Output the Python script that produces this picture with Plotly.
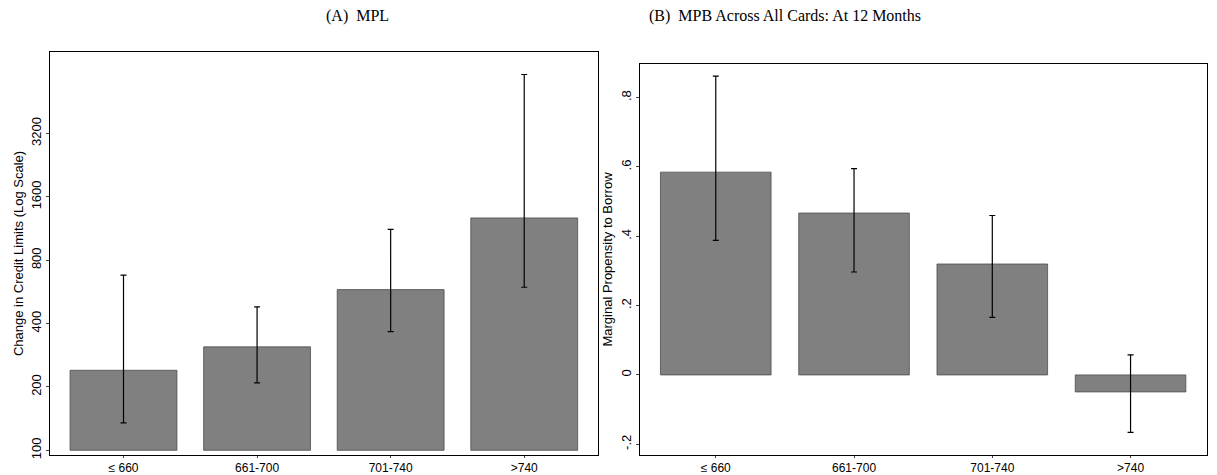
import plotly.graph_objects as go
import numpy as np

groups = ["≤ 660", "661-700", "701-740", ">740"]

# Panel A: change in credit limits (log scale)
mpl = [240, 310, 580, 1270]
mpl_lo = [135, 209, 366, 595]
mpl_hi = [680, 480, 1120, 6100]

# Panel B: marginal propensity to borrow
mpb = [0.585, 0.467, 0.32, -0.049]
mpb_lo = [0.388, 0.297, 0.166, -0.166]
mpb_hi = [0.862, 0.595, 0.46, 0.058]

log_ticks = [100, 200, 400, 800, 1600, 3200]
lin_ticks = [-0.2, 0, 0.2, 0.4, 0.6, 0.8]
lin_labels = ["-.2", "0", ".2", ".4", ".6", ".8"]

bar_color = "#808080"
line_color = "#4d4d4d"
base = 100
H = 471

fig = go.Figure()
fig.add_trace(go.Bar(
    x=groups, y=[v - base for v in mpl], base=base,
    marker=dict(color=bar_color, line=dict(color=line_color, width=0.8)),
    error_y=dict(type="data", symmetric=False,
                 array=[h - v for h, v in zip(mpl_hi, mpl)],
                 arrayminus=[v - l for v, l in zip(mpl, mpl_lo)],
                 color="black", thickness=1.2, width=3),
    width=0.8, xaxis="x", yaxis="y",
))
fig.add_trace(go.Bar(
    x=groups, y=mpb,
    marker=dict(color=bar_color, line=dict(color=line_color, width=0.8)),
    error_y=dict(type="data", symmetric=False,
                 array=[h - v for h, v in zip(mpb_hi, mpb)],
                 arrayminus=[v - l for v, l in zip(mpb, mpb_lo)],
                 color="black", thickness=1.2, width=3),
    width=0.8, xaxis="x2", yaxis="y2",
))

axis_common = dict(showline=True, linecolor="black", linewidth=1, mirror=True,
                   showgrid=False, zeroline=False, ticks="outside", ticklen=3,
                   tickfont=dict(family="Liberation Sans", size=13, color="black"))
xaxis_common = dict(axis_common, ticklen=2,
                    tickfont=dict(family="Liberation Sans", size=12, color="black"))

fig.update_layout(
    width=1201, height=H, showlegend=False,
    plot_bgcolor="white", paper_bgcolor="white",
    margin=dict(l=0, r=0, t=0, b=0, autoexpand=False),
    xaxis=dict(domain=[0.035, 0.491], anchor="y", range=[-0.55, 3.55], **xaxis_common),
    yaxis=dict(domain=[24 / H, 1 - 44 / H], anchor="x", type="log",
               range=[np.log10(95), np.log10(7800)],
               tickvals=log_ticks, tickangle=-90,
               title=dict(text="Change in Credit Limits (Log Scale)", standoff=2,
                          font=dict(family="Liberation Sans", size=13, color="black")),
               **axis_common),
    xaxis2=dict(domain=[0.526, 0.998], anchor="y2", range=[-0.55, 3.55], **xaxis_common),
    yaxis2=dict(domain=[24 / H, 1 - 56 / H], anchor="x2", range=[-0.231, 0.897],
                tickvals=lin_ticks, ticktext=lin_labels, tickangle=-90,
                title=dict(text="Marginal Propensity to Borrow", standoff=2,
                           font=dict(family="Liberation Sans", size=13, color="black")),
                **axis_common),
    annotations=[
        dict(text="(A)  MPL", x=0.263, y=1 - 8 / H, yanchor="middle", xref="paper", yref="paper",
             showarrow=False, font=dict(family="Liberation Serif", size=16, color="black")),
        dict(text="(B)  MPB Across All Cards: At 12 Months", x=0.762, y=1 - 8 / H,
             yanchor="middle", xref="paper", yref="paper", showarrow=False,
             font=dict(family="Liberation Serif", size=16, color="black")),
    ],
)

fig.write_html("out.html")
